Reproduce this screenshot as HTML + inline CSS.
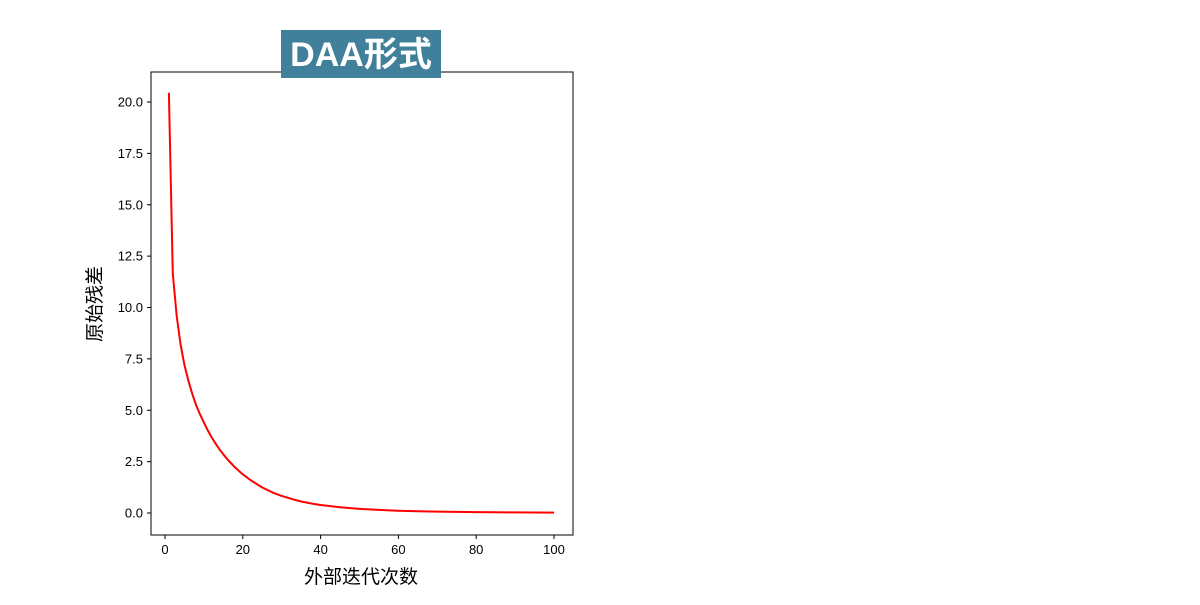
<!DOCTYPE html>
<html><head><meta charset="utf-8"><style>
body{margin:0;background:#fff;}
svg text{font-family:"Liberation Sans","Noto Sans CJK SC",sans-serif;}
</style></head><body>
<svg width="1200" height="600">
<g id="g"></g>
</svg>
<script>
const iterations=[1,2,3,4,5,6,7,8,9,10,11,12,13,14,15,16,18,20,22,25,28,30,33,35,38,40,45,50,55,60,65,70,80,90,100];
const residuals=[20.45,11.66,9.6,8.2,7.2,6.45,5.8,5.25,4.8,4.4,4.02,3.68,3.38,3.1,2.85,2.62,2.22,1.88,1.6,1.24,0.97,0.83,0.66,0.56,0.45,0.39,0.28,0.2,0.15,0.11,0.085,0.065,0.045,0.03,0.02];
const xTicks=[0,20,40,60,80,100];
const yTicks=[0,2.5,5,7.5,10,12.5,15,17.5,20];
const yTickLabels=["0.0","2.5","5.0","7.5","10.0","12.5","15.0","17.5","20.0"];
const L=151,R=573,T=72,B=535;
const sx=v=>165+(554-165)*v/100;
const sy=v=>513-(513-102)*v/20;
const NS="http://www.w3.org/2000/svg";
const g=document.getElementById('g');
function mk(t,a,txt){const e=document.createElementNS(NS,t);for(const k in a)e.setAttribute(k,a[k]);if(txt!==undefined)e.textContent=txt;g.appendChild(e);return e;}
const frame=mk('rect',{x:L,y:T,width:R-L,height:B-T,fill:'none',stroke:'#000','stroke-width':1});


xTicks.forEach(v=>{
 const l=mk('line',{x1:sx(v),x2:sx(v),y1:B,y2:B+4,stroke:'#000'});
 
 
 const t=mk('text',{x:sx(v),y:B+19,'text-anchor':'middle','font-size':13},String(v));
 
 
});
yTicks.forEach((v,i)=>{
 const l=mk('line',{x1:L-4,x2:L,y1:sy(v),y2:sy(v),stroke:'#000'});
 
 
 const t=mk('text',{x:L-8,y:sy(v)+4.5,'text-anchor':'end','font-size':13},yTickLabels[i]);
 
 
});
const p=mk('polyline',{points:iterations.map((x,i)=>sx(x)+','+sy(residuals[i])).join(' '),fill:'none',stroke:'#ff0000','stroke-width':2,'stroke-linejoin':'round'});


const xl=mk('text',{x:361,y:583,'text-anchor':'middle','font-size':19},'外部迭代次数');


const yl=mk('text',{x:0,y:0,'text-anchor':'middle','font-size':19,transform:'translate(101,304) rotate(-90)'},'原始残差');


const tb=mk('rect',{x:281,y:30,width:160,height:48,fill:'#41809a'});


const tt=mk('text',{x:361,y:66,'text-anchor':'middle','font-size':34,'font-weight':'bold',fill:'#fff'},'DAA形式');


</script>
</body></html>
